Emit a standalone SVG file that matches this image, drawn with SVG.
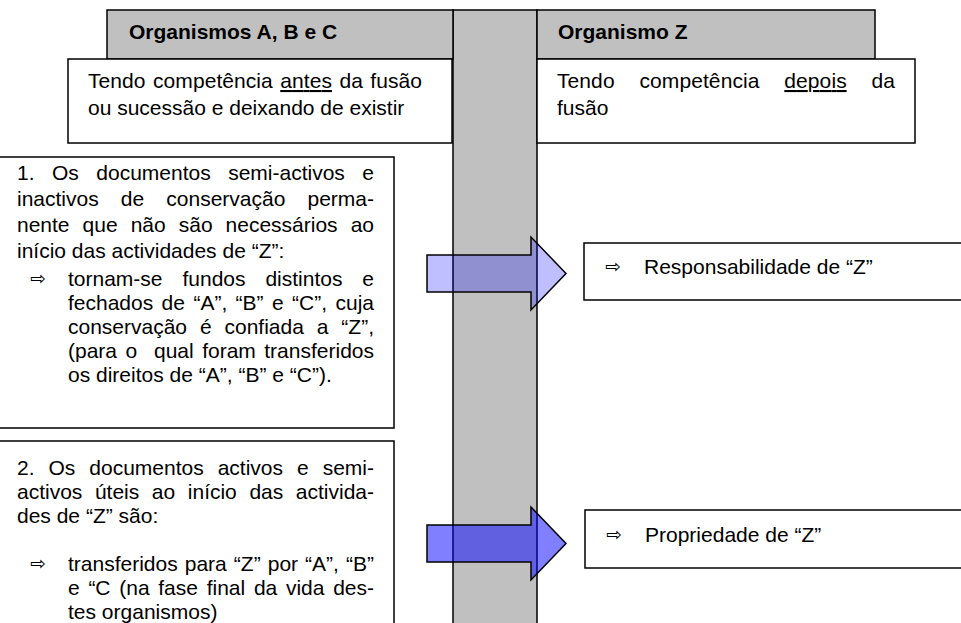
<svg xmlns="http://www.w3.org/2000/svg" width="961" height="623" viewBox="0 0 961 623">
<style>
  .box{fill:#fff;stroke:#000;stroke-width:1.5}
  .hdr{fill:#c0c0c0;stroke:#000;stroke-width:1.5}
  .t{font-family:"Liberation Sans",Arial,sans-serif;font-size:21px;fill:#000}
  .b{font-family:"Liberation Sans",Arial,sans-serif;font-size:21px;font-weight:bold;fill:#000}
  .ar{font-family:"DejaVu Sans",sans-serif;font-size:19px;fill:#000}
  .u{text-decoration:underline}
  .arrow{stroke:#000;stroke-width:1.5;fill:#0000ff}
</style>
<rect width="961" height="623" fill="#fff"/>
<g id="column"><rect class="hdr" x="453" y="10" width="84" height="620"/></g>
<g id="header-abc"><rect class="hdr" x="107" y="10" width="346" height="49"/><text class="b" x="129" y="39">Organismos A, B e C</text></g>
<g id="header-z"><rect class="hdr" x="537" y="10" width="338" height="49"/><text class="b" x="558" y="39">Organismo Z</text></g>
<g id="before-box"><rect class="box" x="68" y="59" width="384" height="84"/>
<text class="t" x="88" y="88" word-spacing="1.5" textLength="334" lengthAdjust="spacing">Tendo competência <tspan class="u">antes</tspan> da fusão</text>
<text class="t" x="88" y="115">ou sucessão e deixando de existir</text></g>
<g id="after-box"><rect class="box" x="537" y="59" width="378" height="84"/>
<text class="t" x="557" y="88" word-spacing="18.9" textLength="338" lengthAdjust="spacing">Tendo competência <tspan class="u">depois</tspan> da</text>
<text class="t" x="557" y="115">fusão</text></g>
<g id="box1"><rect class="box" x="-5" y="157" width="399" height="271"/>
<text class="t" x="17" y="180" word-spacing="11.65" textLength="357" lengthAdjust="spacing">1. Os documentos semi-activos e</text>
<text class="t" x="17" y="206" word-spacing="16.3" textLength="357" lengthAdjust="spacing">inactivos de conservação perma-</text>
<text class="t" x="17" y="232" word-spacing="7.2" textLength="357" lengthAdjust="spacing">nente que não são necessários ao</text>
<text class="t" x="17" y="258">início das actividades de “Z”:</text>
<text class="ar" x="30" y="285">⇨</text>
<text class="t" x="68" y="286" word-spacing="14.07" textLength="306" lengthAdjust="spacing">tornam-se fundos distintos e</text>
<text class="t" x="68" y="310" word-spacing="2.57" textLength="306" lengthAdjust="spacing">fechados de “A”, “B” e “C”, cuja</text>
<text class="t" x="68" y="334" word-spacing="7.05" textLength="306" lengthAdjust="spacing">conservação é confiada a “Z”,</text>
<text class="t" x="68" y="358" word-spacing="2.6" textLength="306" lengthAdjust="spacing">(para o&#160; qual foram transferidos</text>
<text class="t" x="68" y="382">os direitos de “A”, “B” e “C”).</text></g>
<g id="box2"><rect class="box" x="-5" y="441" width="399" height="200"/>
<text class="t" x="17" y="475" word-spacing="8.14" textLength="357" lengthAdjust="spacing">2. Os documentos activos e semi-</text>
<text class="t" x="17" y="499" word-spacing="6.74" textLength="357" lengthAdjust="spacing">activos úteis ao início das activida-</text>
<text class="t" x="17" y="523">des de “Z” são:</text>
<text class="ar" x="30" y="570">⇨</text>
<text class="t" x="68" y="571" word-spacing="1.22" textLength="306" lengthAdjust="spacing">transferidos para “Z” por “A”, “B”</text>
<text class="t" x="68" y="595" word-spacing="2.86" textLength="306" lengthAdjust="spacing">e “C (na fase final da vida des-</text>
<text class="t" x="68" y="619">tes organismos)</text></g>
<g id="resp-box"><rect class="box" x="584" y="243" width="390" height="57"/>
<text class="ar" x="605" y="273">⇨</text>
<text class="t" x="644" y="274">Responsabilidade de “Z”</text></g>
<g id="prop-box"><rect class="box" x="585" y="510" width="390" height="58"/>
<text class="ar" x="606" y="541">⇨</text>
<text class="t" x="645" y="542">Propriedade de “Z”</text></g>
<g id="connectors">
<polygon class="arrow" fill-opacity="0.25" points="427,255 531,255 531,237 566,273.5 531,310 531,292 427,292"/>
<polygon class="arrow" fill-opacity="0.5" points="427,525 531,525 531,507 566,543.5 531,580 531,562 427,562"/>
</g>
</svg>
